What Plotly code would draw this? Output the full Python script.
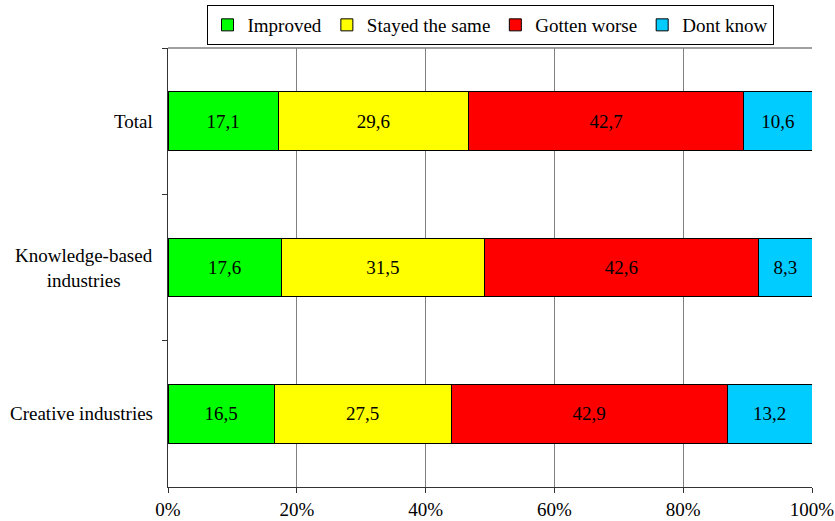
import plotly.graph_objects as go

categories = ["Total", "Knowledge-based<br>industries", "Creative industries"]
series_names = ["Improved", "Stayed the same", "Gotten worse", "Dont know"]
improved = [17.1, 17.6, 16.5]
stayed = [29.6, 31.5, 27.5]
worse = [42.7, 42.6, 42.9]
dont_know = [10.6, 8.3, 13.2]
colors = ["#00FF00", "#FFFF00", "#FF0000", "#00CCFF"]
x_ticks = [0, 20, 40, 60, 80, 100]
x_tick_labels = ["0%", "20%", "40%", "60%", "80%", "100%"]

FONT = "Liberation Serif, Times New Roman, serif"
FS = 19

fig = go.Figure()
for name, vals, col in zip(series_names, [improved, stayed, worse, dont_know], colors):
    fig.add_trace(go.Bar(
        y=categories, x=vals, name=name, orientation="h",
        marker=dict(color=col, line=dict(color="black", width=1)),
        text=[f"{v:.1f}".replace(".", ",") for v in vals],
        textposition="inside", insidetextanchor="middle",
        textfont=dict(family=FONT, size=FS, color="black"),
        width=0.4, hoverinfo="skip",
    ))

# category labels (centered multi-line, right-aligned block)
for c in categories:
    fig.add_annotation(x=-0.02, xref="paper", y=c, yref="y", text=c,
                       showarrow=False, xanchor="right", yanchor="middle",
                       align="center", font=dict(family=FONT, size=FS, color="black"))

# gray top frame line of the plot area
fig.add_shape(type="line", xref="paper", yref="paper", x0=0, x1=1, y0=1, y1=1,
              line=dict(color="#808080", width=1.3), layer="below")

fig.update_layout(
    barmode="stack", barnorm="percent",
    width=835, height=521,
    margin=dict(l=168, r=23, t=48, b=34),
    paper_bgcolor="white", plot_bgcolor="white",
    font=dict(family=FONT, size=FS, color="black"),
    showlegend=True,
    legend=dict(orientation="h", x=0.5, xanchor="center", xref="paper",
                y=1 - 5 / 521, yanchor="top", yref="container",
                bordercolor="black", borderwidth=1, font=dict(size=FS),
                traceorder="normal", itemwidth=30, tracegroupgap=0),
    uniformtext=dict(mode="show", minsize=10),
)
fig.update_xaxes(range=[0, 100], tickvals=x_ticks, ticktext=x_tick_labels,
                 showgrid=True, gridcolor="#808080", gridwidth=1.3,
                 showline=True, linecolor="#333333", linewidth=1.3,
                 ticks="outside", ticklen=5, tickcolor="#333333",
                 zeroline=False, tickfont=dict(size=FS), automargin=False)
fig.update_yaxes(categoryorder="array", categoryarray=categories, autorange="reversed",
                 showline=True, linecolor="#333333", linewidth=1.3,
                 ticks="outside", ticklen=5, tickcolor="#333333", tickson="boundaries",
                 showgrid=False, showticklabels=False, automargin=False)

fig.write_html("out.html")
